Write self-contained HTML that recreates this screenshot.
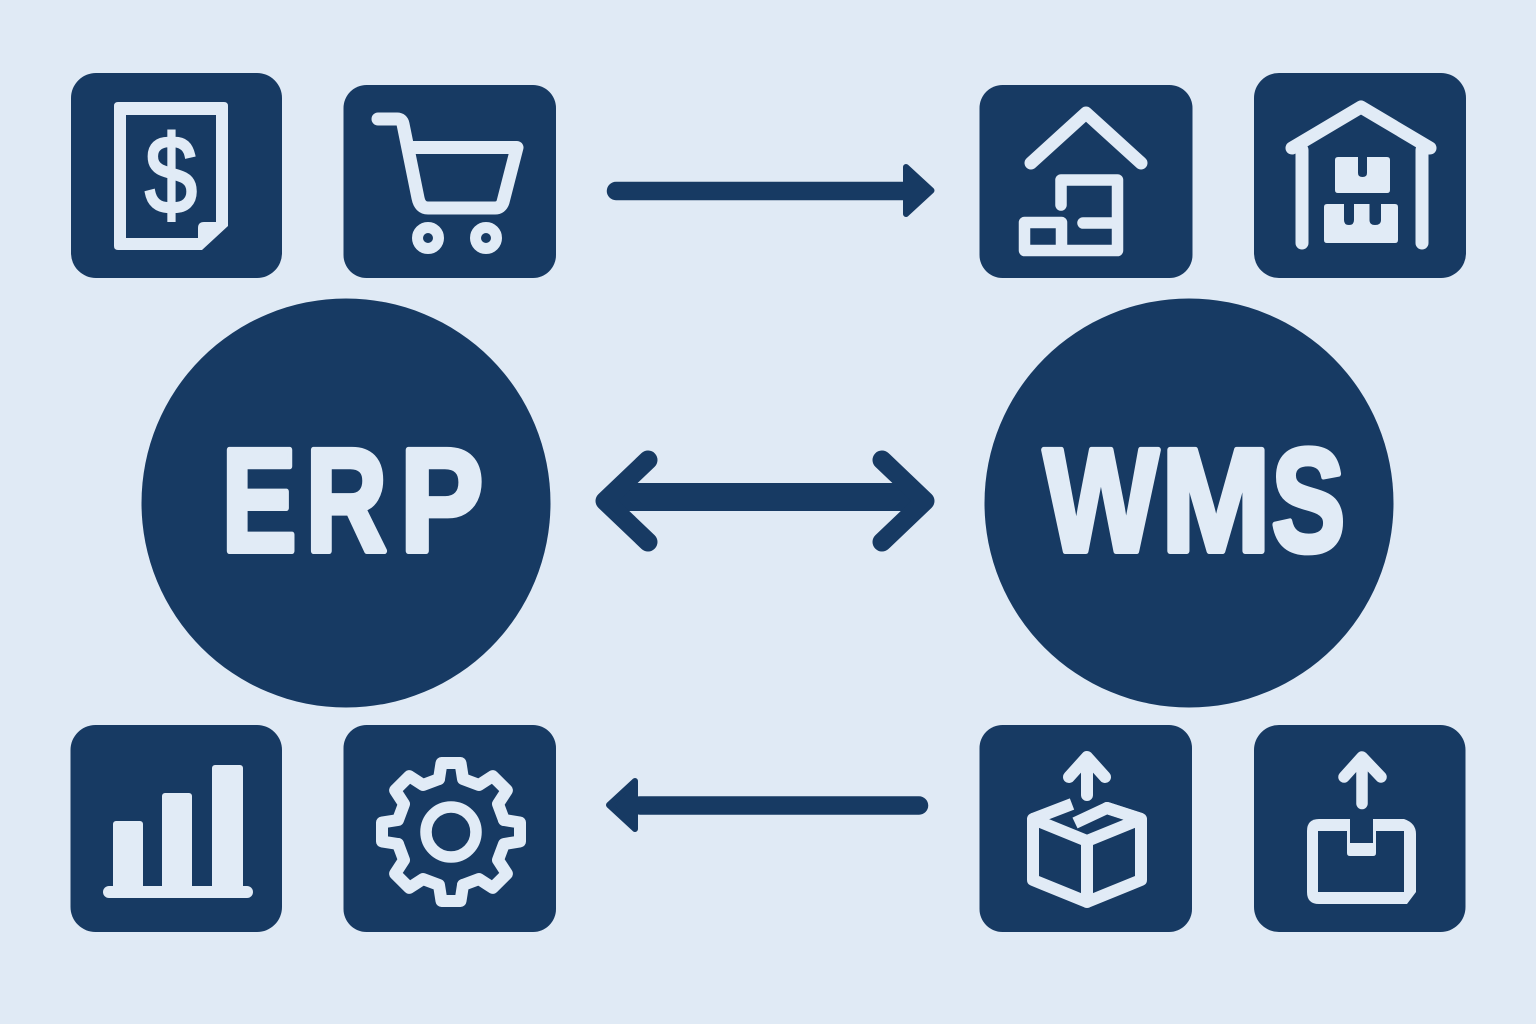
<!DOCTYPE html>
<html lang="en">
<head>
<meta charset="utf-8">
<title>ERP and WMS integration</title>
<style>
html,body{margin:0;padding:0;width:1536px;height:1024px;overflow:hidden;background:#e0eaf5}
svg{display:block}
text{font-family:"Liberation Sans",sans-serif}
</style>
</head>
<body>
<svg width="1536" height="1024" viewBox="0 0 1536 1024" xmlns="http://www.w3.org/2000/svg">
<rect width="1536" height="1024" fill="#e0eaf5"/>

<!-- panels -->
<g fill="#173a63">
<rect x="71" y="73" width="211" height="205" rx="25"/>
<rect x="343.5" y="85" width="212.5" height="193" rx="23"/>
<rect x="979.5" y="85" width="213" height="193" rx="23"/>
<rect x="1254" y="73" width="212" height="205" rx="25"/>
<rect x="70.5" y="725" width="211.5" height="207" rx="25"/>
<rect x="343.5" y="725" width="212.5" height="207" rx="23"/>
<rect x="979.5" y="725" width="212.5" height="207" rx="23"/>
<rect x="1254" y="725" width="211.5" height="207" rx="25"/>
<circle cx="346" cy="503" r="204.5"/>
<circle cx="1189" cy="503" r="204.5"/>
</g>

<!-- labels -->
<g fill="#e1ebf6" stroke="#e1ebf6" stroke-width="6" stroke-linejoin="round" font-weight="700" font-size="147">
<text y="551"><tspan x="221.6" textLength="75" lengthAdjust="spacingAndGlyphs">E</tspan></text>
<text x="305.7" y="551" textLength="81.4" lengthAdjust="spacingAndGlyphs">R</text>
<text x="399.9" y="551" textLength="83.5" lengthAdjust="spacingAndGlyphs">P</text>
<text x="1043.5" y="551" textLength="115" lengthAdjust="spacingAndGlyphs">W</text>
<text x="1161.2" y="551" textLength="109.5" lengthAdjust="spacingAndGlyphs">M</text>
<text x="1271.5" y="551" textLength="73.6" lengthAdjust="spacingAndGlyphs">S</text>
</g>

<!-- connectors -->
<g fill="#173a63" stroke="#173a63" stroke-linejoin="round" stroke-linecap="round">
<path d="M616 191H910" fill="none" stroke-width="18.5"/>
<path d="M906 167L931.5 190.5L906 214Z" stroke-width="6"/>
<path d="M610 497H920" fill="none" stroke-width="28" stroke-linecap="butt"/>
<path d="M648 460L605 501L648 542M882 460L925 501L882 542" fill="none" stroke-width="19"/>
<path d="M640 805.5H919" fill="none" stroke-width="18.5"/>
<path d="M635 781L609 805L635 829Z" stroke-width="6"/>
</g>

<!-- document with dollar -->
<path d="M118 102H224Q228 102 228 106V226L202 250H118Q114 250 114 246V106Q114 102 118 102Z" fill="#e1ebf6"/>
<path d="M126 115H216V222H204Q198 222 198 228V238H126Z" fill="#173a63"/>
<text x="171" y="213" text-anchor="middle" font-size="110" textLength="52" lengthAdjust="spacingAndGlyphs" fill="#e1ebf6" stroke="#e1ebf6" stroke-width="3">$</text>

<g fill="none" stroke="#e1ebf6" stroke-linecap="round" stroke-linejoin="round">
<!-- cart -->
<path d="M378 119H397Q402 119 403 124L418 198Q420 208 428 208H495Q501 208 503 202L517 147.5H410" stroke-width="13"/>
<circle cx="428" cy="238" r="10.5" stroke-width="11"/>
<circle cx="486" cy="238" r="10.5" stroke-width="11"/>

<!-- home with boxes -->
<path d="M1031 163L1086 113L1141 163" stroke-width="13"/>
<path d="M1061 205V180H1117.5V250.5H1024.5V222.5H1061.5V250.5M1083 223H1117" stroke-width="11.5"/>

<!-- warehouse -->
<path d="M1292 148L1361 107L1430 148M1302 150V243M1422 150V243" stroke-width="13"/>

<!-- gear -->
<circle cx="451" cy="832" r="25" stroke-width="11.5"/>
<g stroke-width="12">
<path id="t" transform="translate(451 832)" d="M-12 -53L-9.5 -69L9.5 -69L12 -53L28 -47L41.7 -55.9L55.9 -41.7L47 -28L53 -12"/>
<use href="#t" transform="rotate(90 451 832)"/>
<use href="#t" transform="rotate(180 451 832)"/>
<use href="#t" transform="rotate(270 451 832)"/>
</g>

<!-- box with arrow -->
<path d="M1087 795V758M1069 777L1087 757L1105 777" stroke-width="12"/>
<path d="M1033 819V880L1087 902L1141 880V819L1107 808M1033 819L1087 841L1141 819M1087 841V902" stroke-width="12"/>
<path d="M1072 804L1033 819M1075 823L1107 808L1141 819" stroke-width="12" stroke-linecap="butt"/>
</g>

<!-- warehouse boxes -->
<g fill="#e1ebf6">
<path d="M1338 157H1358V173Q1358 177 1362.5 177Q1367 177 1367 173V157H1387Q1390 157 1390 160V190Q1390 193 1387 193H1338Q1335 193 1335 190V160Q1335 157 1338 157Z"/>
<path d="M1327 204H1344V220Q1344 225 1349 225Q1354 225 1354 220V204H1369.5V220Q1369.5 225 1375 225Q1381 225 1381 220V204H1395Q1398 204 1398 207V240Q1398 243 1395 243H1327Q1324 243 1324 240V207Q1324 204 1327 204Z"/>
<!-- bars -->
<rect x="113" y="821" width="30" height="70" rx="3"/>
<rect x="162" y="793" width="30" height="98" rx="3"/>
<rect x="212" y="765" width="31" height="126" rx="3"/>
<rect x="103" y="886" width="150" height="12" rx="6"/>
<!-- upload tray -->
<path d="M1319 819H1404Q1416 823 1416 834V892L1407 904H1319Q1307 904 1307 892V831Q1307 819 1319 819Z"/>
</g>
<path d="M1318 831H1347V853Q1347 856 1350 856H1373Q1376 856 1376 853V831H1404V892H1318Z" fill="#173a63"/>
<rect x="1350" y="815" width="23" height="28" fill="#173a63"/>
<path d="M1362 803.5V758M1344 777L1362 757L1381 777" fill="none" stroke="#e1ebf6" stroke-width="11.5" stroke-linecap="round" stroke-linejoin="round"/>
</svg>
</body>
</html>
